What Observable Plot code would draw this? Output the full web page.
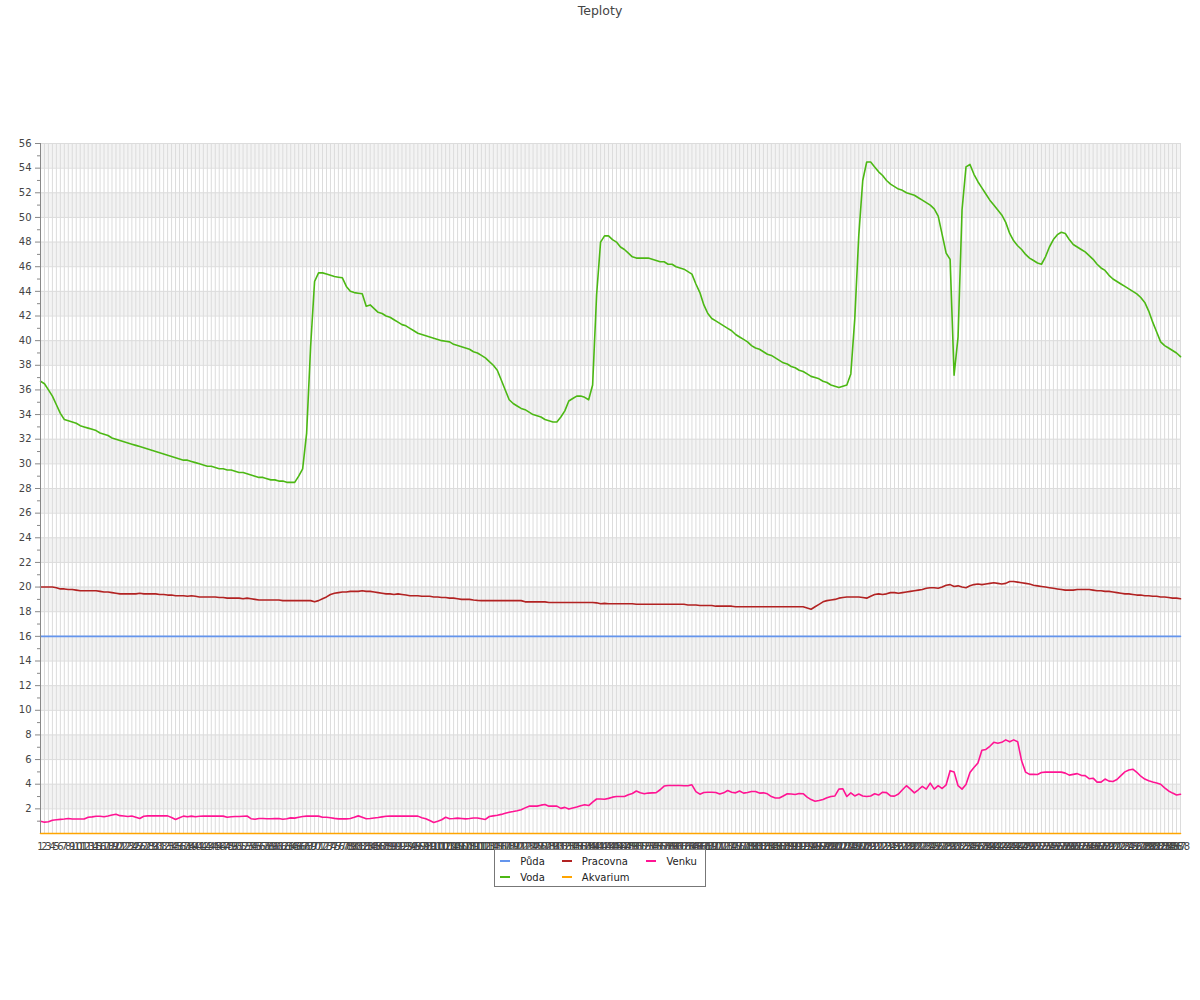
<!DOCTYPE html>
<html><head><meta charset="utf-8">
<script src="https://cdn.jsdelivr.net/npm/d3@7"></script>
<script src="https://cdn.jsdelivr.net/npm/@observablehq/plot@0.6"></script>
<style>
body{margin:0;background:#fff;font-family:"DejaVu Sans",sans-serif;}
#title{height:22px;line-height:22px;text-align:center;font-size:12.5px;color:#444;}
#chart svg{display:block;}
#legend{position:relative;margin:-9px auto 0;width:fit-content;border:1px solid #777;background:#fff;
 padding:3px 8px 1px 5px;display:grid;grid-template-rows:16px 16px;grid-auto-flow:column;column-gap:17px;
 font-size:10px;color:#222;}
.item{display:flex;align-items:center;white-space:nowrap;}
.sw{width:10px;height:2px;margin-right:10px;}
</style></head><body>
<div id="title">Teploty</div>
<div id="chart"></div>
<div id="legend"></div>
<script>
const labels = d3.range(1, 289);
const seriesNames = ["Půda", "Voda", "Pracovna", "Akvarium", "Venku"];
const seriesColors = ["#6495ed", "#4cb814", "#b22222", "#ffa500", "#ff1493"];
const yTicks = [2,4,6,8,10,12,14,16,18,20,22,24,26,28,30,32,34,36,38,40,42,44,46,48,50,52,54,56];
const bandStarts = [2,6,10,14,18,22,26,30,34,38,42,46,50,54];

const puda = [
16,16,16,16,16,16,16,16,16,16,
16,16,16,16,16,16,16,16,16,16,
16,16,16,16,16,16,16,16,16,16,
16,16,16,16,16,16,16,16,16,16,
16,16,16,16,16,16,16,16,16,16,
16,16,16,16,16,16,16,16,16,16,
16,16,16,16,16,16,16,16,16,16,
16,16,16,16,16,16,16,16,16,16,
16,16,16,16,16,16,16,16,16,16,
16,16,16,16,16,16,16,16,16,16,
16,16,16,16,16,16,16,16,16,16,
16,16,16,16,16,16,16,16,16,16,
16,16,16,16,16,16,16,16,16,16,
16,16,16,16,16,16,16,16,16,16,
16,16,16,16,16,16,16,16,16,16,
16,16,16,16,16,16,16,16,16,16,
16,16,16,16,16,16,16,16,16,16,
16,16,16,16,16,16,16,16,16,16,
16,16,16,16,16,16,16,16,16,16,
16,16,16,16,16,16,16,16,16,16,
16,16,16,16,16,16,16,16,16,16,
16,16,16,16,16,16,16,16,16,16,
16,16,16,16,16,16,16,16,16,16,
16,16,16,16,16,16,16,16,16,16,
16,16,16,16,16,16,16,16,16,16,
16,16,16,16,16,16,16,16,16,16,
16,16,16,16,16,16,16,16,16,16,
16,16,16,16,16,16,16,16,16,16,
16,16,16,16,16,16,16,16];

const voda = [
36.7,36.5,36.0,35.5,34.8,34.1,33.6,33.5,33.4,33.3,
33.1,33.0,32.9,32.8,32.7,32.5,32.4,32.3,32.1,32.0,
31.9,31.8,31.7,31.6,31.5,31.4,31.3,31.2,31.1,31.0,
30.9,30.8,30.7,30.6,30.5,30.4,30.3,30.3,30.2,30.1,
30.0,29.9,29.8,29.8,29.7,29.6,29.6,29.5,29.5,29.4,
29.3,29.3,29.2,29.1,29.0,28.9,28.9,28.8,28.7,28.7,
28.6,28.6,28.5,28.5,28.5,29.0,29.6,32.5,39.5,44.8,
45.5,45.5,45.4,45.3,45.2,45.15,45.1,44.4,44.0,43.9,
43.85,43.8,42.8,42.9,42.6,42.3,42.2,42.0,41.9,41.7,
41.5,41.3,41.2,41.0,40.8,40.6,40.5,40.4,40.3,40.2,
40.1,40.0,39.95,39.9,39.7,39.6,39.5,39.4,39.3,39.1,
39.0,38.8,38.6,38.3,38.0,37.6,36.8,36.0,35.2,34.9,
34.7,34.5,34.4,34.2,34.0,33.9,33.8,33.6,33.5,33.4,
33.4,33.8,34.3,35.1,35.3,35.5,35.5,35.4,35.2,36.4,
43.7,48.0,48.5,48.5,48.2,48.0,47.6,47.4,47.1,46.8,
46.7,46.7,46.7,46.7,46.6,46.5,46.4,46.4,46.2,46.2,
46.0,45.9,45.8,45.6,45.4,44.6,43.9,42.9,42.2,41.8,
41.6,41.4,41.2,41.0,40.8,40.5,40.3,40.1,39.9,39.6,
39.4,39.3,39.1,38.9,38.8,38.6,38.4,38.2,38.1,37.9,
37.8,37.6,37.5,37.3,37.1,37.0,36.9,36.7,36.6,36.4,
36.3,36.2,36.3,36.4,37.3,41.8,48.5,53.0,54.5,54.5,
54.1,53.7,53.4,53.0,52.7,52.5,52.3,52.2,52.0,51.9,
51.8,51.6,51.4,51.2,51.0,50.7,50.1,48.6,47.1,46.6,
37.2,40.3,50.6,54.1,54.3,53.5,52.9,52.4,51.9,51.4,
51.0,50.6,50.2,49.6,48.7,48.1,47.7,47.4,47.0,46.7,
46.5,46.3,46.2,46.8,47.6,48.2,48.6,48.8,48.7,48.2,
47.8,47.6,47.4,47.2,46.9,46.6,46.2,45.9,45.7,45.3,
45.0,44.8,44.6,44.4,44.2,44.0,43.8,43.5,43.1,42.4,
41.5,40.7,39.9,39.6,39.4,39.2,39.0,38.7];

const pracovna = [
20.0,20.0,20.0,20.0,19.95,19.85,19.85,19.8,19.8,19.75,
19.7,19.7,19.7,19.7,19.7,19.65,19.6,19.6,19.55,19.5,
19.45,19.45,19.45,19.45,19.45,19.5,19.45,19.45,19.45,19.45,
19.4,19.4,19.35,19.35,19.3,19.3,19.3,19.25,19.3,19.25,
19.2,19.2,19.2,19.2,19.2,19.15,19.15,19.1,19.1,19.1,
19.1,19.05,19.1,19.05,19.0,18.95,18.95,18.95,18.95,18.95,
18.95,18.9,18.9,18.9,18.9,18.9,18.9,18.9,18.9,18.8,
18.9,19.05,19.2,19.4,19.5,19.55,19.6,19.6,19.65,19.65,
19.65,19.7,19.65,19.65,19.6,19.55,19.5,19.45,19.45,19.4,
19.45,19.4,19.35,19.3,19.3,19.3,19.25,19.25,19.25,19.2,
19.2,19.15,19.15,19.1,19.1,19.05,19.0,19.0,19.0,18.95,
18.92,18.9,18.9,18.9,18.9,18.9,18.9,18.9,18.9,18.9,
18.9,18.9,18.8,18.8,18.8,18.8,18.8,18.8,18.75,18.75,
18.75,18.75,18.75,18.75,18.75,18.75,18.75,18.75,18.75,18.75,
18.72,18.65,18.68,18.65,18.65,18.65,18.65,18.65,18.65,18.65,
18.6,18.6,18.6,18.6,18.6,18.6,18.6,18.6,18.6,18.6,
18.6,18.6,18.6,18.55,18.55,18.55,18.5,18.5,18.5,18.5,
18.45,18.45,18.45,18.45,18.45,18.4,18.4,18.4,18.4,18.4,
18.4,18.4,18.4,18.4,18.4,18.4,18.4,18.4,18.4,18.4,
18.4,18.4,18.4,18.3,18.2,18.4,18.6,18.8,18.9,18.95,
19.0,19.1,19.15,19.2,19.2,19.2,19.2,19.15,19.1,19.25,
19.4,19.45,19.4,19.45,19.55,19.55,19.5,19.55,19.6,19.65,
19.7,19.75,19.8,19.9,19.95,19.95,19.9,20.0,20.15,20.2,
20.05,20.1,20.0,19.95,20.1,20.2,20.25,20.2,20.25,20.3,
20.35,20.3,20.25,20.3,20.45,20.45,20.4,20.35,20.3,20.25,
20.15,20.1,20.05,20.0,19.95,19.9,19.85,19.8,19.75,19.75,
19.75,19.8,19.8,19.8,19.8,19.75,19.7,19.7,19.65,19.65,
19.6,19.55,19.5,19.45,19.45,19.4,19.35,19.35,19.3,19.3,
19.25,19.25,19.2,19.2,19.15,19.1,19.1,19.05];

const akvarium = [
0,0,0,0,0,0,0,0,0,0,
0,0,0,0,0,0,0,0,0,0,
0,0,0,0,0,0,0,0,0,0,
0,0,0,0,0,0,0,0,0,0,
0,0,0,0,0,0,0,0,0,0,
0,0,0,0,0,0,0,0,0,0,
0,0,0,0,0,0,0,0,0,0,
0,0,0,0,0,0,0,0,0,0,
0,0,0,0,0,0,0,0,0,0,
0,0,0,0,0,0,0,0,0,0,
0,0,0,0,0,0,0,0,0,0,
0,0,0,0,0,0,0,0,0,0,
0,0,0,0,0,0,0,0,0,0,
0,0,0,0,0,0,0,0,0,0,
0,0,0,0,0,0,0,0,0,0,
0,0,0,0,0,0,0,0,0,0,
0,0,0,0,0,0,0,0,0,0,
0,0,0,0,0,0,0,0,0,0,
0,0,0,0,0,0,0,0,0,0,
0,0,0,0,0,0,0,0,0,0,
0,0,0,0,0,0,0,0,0,0,
0,0,0,0,0,0,0,0,0,0,
0,0,0,0,0,0,0,0,0,0,
0,0,0,0,0,0,0,0,0,0,
0,0,0,0,0,0,0,0,0,0,
0,0,0,0,0,0,0,0,0,0,
0,0,0,0,0,0,0,0,0,0,
0,0,0,0,0,0,0,0,0,0,
0,0,0,0,0,0,0,0];

const venku = [
1.0,0.92,0.95,1.08,1.12,1.15,1.18,1.22,1.18,1.18,
1.18,1.18,1.32,1.35,1.4,1.4,1.36,1.42,1.5,1.56,
1.45,1.42,1.38,1.42,1.32,1.22,1.4,1.43,1.43,1.43,
1.43,1.43,1.43,1.3,1.14,1.28,1.41,1.36,1.41,1.36,
1.4,1.41,1.41,1.41,1.41,1.41,1.41,1.32,1.36,1.38,
1.38,1.4,1.42,1.2,1.16,1.22,1.22,1.2,1.2,1.21,
1.22,1.16,1.2,1.27,1.25,1.32,1.38,1.41,1.41,1.41,
1.41,1.32,1.32,1.28,1.23,1.19,1.19,1.19,1.22,1.32,
1.43,1.32,1.2,1.22,1.26,1.3,1.35,1.4,1.41,1.41,
1.41,1.41,1.41,1.41,1.41,1.41,1.28,1.2,1.05,0.9,
1.0,1.12,1.32,1.2,1.22,1.25,1.22,1.19,1.22,1.26,
1.26,1.2,1.14,1.38,1.43,1.48,1.55,1.64,1.72,1.78,
1.85,1.93,2.08,2.22,2.22,2.22,2.3,2.36,2.22,2.22,
2.22,2.04,2.12,1.98,2.07,2.15,2.25,2.33,2.27,2.55,
2.8,2.8,2.78,2.85,2.95,3.0,3.0,3.0,3.15,3.25,
3.45,3.3,3.22,3.28,3.3,3.32,3.55,3.85,3.9,3.9,
3.9,3.9,3.88,3.88,3.95,3.4,3.19,3.33,3.35,3.35,
3.33,3.2,3.3,3.49,3.35,3.3,3.45,3.28,3.33,3.41,
3.41,3.28,3.3,3.22,3.0,2.88,2.88,3.05,3.22,3.2,
3.16,3.25,3.23,2.95,2.75,2.62,2.68,2.76,2.9,3.0,
3.05,3.6,3.63,3.0,3.3,3.05,3.2,3.05,3.0,3.05,
3.22,3.12,3.35,3.32,3.05,3.03,3.2,3.55,3.88,3.6,
3.3,3.55,3.82,3.6,4.09,3.6,3.88,3.65,3.95,5.1,
5.0,3.88,3.6,3.97,4.95,5.35,5.72,6.75,6.82,7.08,
7.4,7.32,7.4,7.6,7.44,7.6,7.45,5.9,4.98,4.8,
4.8,4.79,4.95,4.98,4.98,4.98,4.98,4.98,4.9,4.74,
4.8,4.86,4.72,4.7,4.45,4.49,4.17,4.17,4.42,4.25,
4.22,4.38,4.7,5.0,5.15,5.22,4.97,4.65,4.42,4.28,
4.18,4.1,4.0,3.7,3.45,3.28,3.12,3.19];

const seriesValues = [puda, voda, pracovna, akvarium, venku];
const yMinor = yTicks.map(t => t - 1);
const yGrid = [0, ...yTicks];

const lineMarks = seriesValues.map((vals, k) =>
  Plot.lineY(vals, {x: labels.slice(0, vals.length), y: vals, stroke: seriesColors[k], strokeWidth: 1.6})
);

const chart = Plot.plot({
  width: 1200,
  height: 836,
  marginTop: 121,
  marginBottom: 25,
  marginLeft: 40,
  marginRight: 20,
  style: {fontFamily: "DejaVu Sans", fontSize: "10px", color: "#444", background: "#fff"},
  x: {type: "linear", domain: [1, 288], label: null},
  y: {domain: [0, 56], label: null},
  marks: [
    Plot.rectY(bandStarts, {y1: d => d, y2: d => d + 2, fill: "#f3f3f3"}),
    Plot.gridY(yGrid, {stroke: "#dcdcdc", strokeOpacity: 1}),
    Plot.gridX(labels, {stroke: "#dcdcdc", strokeOpacity: 1}),
    ...lineMarks,
    Plot.axisY(yMinor, {tickSize: 3, tickFormat: () => "", stroke: "#888"}),
    Plot.axisY(yTicks, {tickSize: 5, tickPadding: 4, stroke: "#888"}),
    Plot.ruleX([1], {y1: 0, y2: 56, stroke: "#888"}),
    Plot.axisX(labels, {tickSize: 0, tickPadding: 9, tickFormat: d => String(d), fill: "#444"})
  ]
});
document.getElementById("chart").appendChild(chart);

const legend = document.getElementById("legend");
seriesNames.forEach((name, k) => {
  const it = document.createElement("div");
  it.className = "item";
  const sw = document.createElement("span");
  sw.className = "sw";
  sw.style.background = seriesColors[k];
  it.appendChild(sw);
  it.appendChild(document.createTextNode(name));
  legend.appendChild(it);
});
</script>
</body></html>
